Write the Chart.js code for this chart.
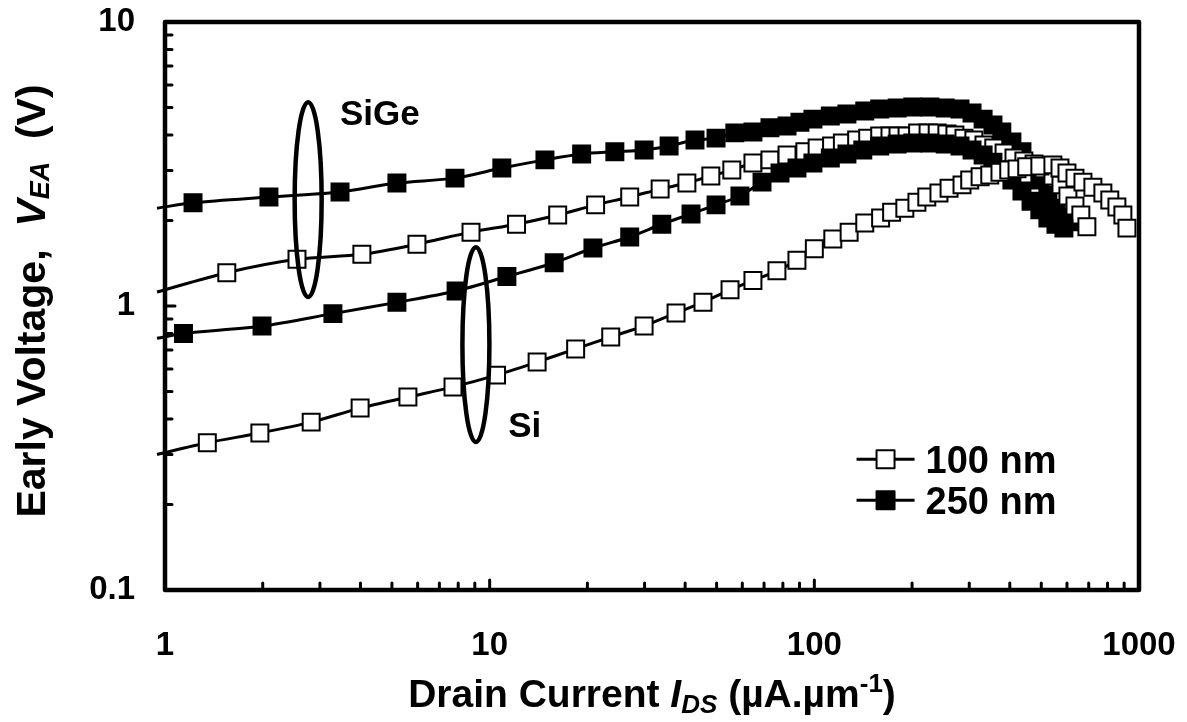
<!DOCTYPE html>
<html>
<head>
<meta charset="utf-8">
<title>Early voltage vs drain current</title>
<script src="https://cdn.jsdelivr.net/npm/chart.js@4.4.1/dist/chart.umd.min.js"></script>
<style>
  html, body { margin: 0; padding: 0; background: #fff; }
  #wrap { width: 1187px; height: 722px; position: relative; }
</style>
</head>
<body>
<div id="wrap"><canvas id="chart"></canvas></div>
<script>
const FONT = '"Liberation Sans", Arial, sans-serif';

// drain current (µA/µm) and Early voltage (V).
// first entry of each series is where the curve starts, just left of the y axis (no marker)
const si100X = [0.945, 1.35, 1.96, 2.82, 3.99, 5.60, 7.71, 10.5, 14.0, 18.4, 23.6, 29.9, 37.5, 45.4, 55.0, 64.7, 76.7, 88.4, 100, 114, 128, 143, 160, 173, 190, 207, 222, 242, 260, 285, 301, 324, 347, 373, 397, 421, 451, 495, 543, 571, 600, 635, 672, 721, 774, 813, 855, 892, 918];
const si100Y = [0.30, 0.33, 0.357, 0.39, 0.437, 0.478, 0.519, 0.571, 0.635, 0.706, 0.778, 0.851, 0.945, 1.03, 1.14, 1.23, 1.33, 1.45, 1.59, 1.72, 1.82, 1.96, 2.04, 2.14, 2.21, 2.32, 2.42, 2.50, 2.60, 2.67, 2.78, 2.85, 2.89, 2.96, 3.01, 3.04, 3.09, 3.11, 3.14, 3.06, 2.94, 2.82, 2.73, 2.62, 2.50, 2.36, 2.23, 2.09, 1.88];

const sige100X = [0.945, 1.55, 2.55, 4.04, 5.97, 8.76, 12.1, 16.2, 21.2, 27.0, 33.5, 40.5, 48.0, 55.7, 64.7, 73.0, 82.4, 93.5, 102, 113, 122, 135, 146, 159, 171, 181, 193, 208, 224, 239, 256, 271, 289, 310, 333, 357, 384, 412, 442, 475, 509, 543, 575, 604, 635, 662, 691];
const sige100Y = [1.12, 1.31, 1.46, 1.52, 1.65, 1.82, 1.94, 2.09, 2.27, 2.42, 2.58, 2.71, 2.87, 3.01, 3.19, 3.27, 3.40, 3.49, 3.60, 3.66, 3.75, 3.84, 3.90, 3.97, 3.97, 3.97, 3.97, 4.07, 4.07, 4.07, 4.03, 4.00, 3.90, 3.84, 3.69, 3.60, 3.46, 3.32, 3.24, 3.16, 3.04, 2.87, 2.67, 2.44, 2.25, 2.09, 1.90];

const si250X = [0.945, 1.14, 1.99, 3.29, 5.18, 7.88, 11.3, 15.8, 20.8, 27.0, 33.9, 41.7, 49.8, 59.0, 69.0, 78.4, 88.4, 99, 112, 126, 141, 159, 180, 201, 227, 253, 281, 306, 331, 355, 378, 406, 436, 465, 495, 524, 555, 587];
const si250Y = [0.77, 0.80, 0.85, 0.94, 1.03, 1.13, 1.27, 1.42, 1.60, 1.75, 1.94, 2.11, 2.27, 2.44, 2.73, 2.94, 3.06, 3.19, 3.32, 3.43, 3.54, 3.66, 3.72, 3.75, 3.75, 3.72, 3.66, 3.54, 3.40, 3.21, 3.01, 2.78, 2.54, 2.34, 2.18, 2.04, 1.94, 1.88];

const sige250X = [0.945, 1.22, 2.09, 3.46, 5.18, 7.82, 10.9, 14.8, 19.2, 24.3, 29.9, 35.7, 42.9, 49.8, 56.9, 64.7, 73.0, 82.4, 90.3, 99, 112, 126, 143, 159, 180, 201, 227, 253, 281, 306, 331, 355, 378, 406, 436, 465, 495, 524, 555, 587, 621];
const sige250Y = [2.21, 2.31, 2.42, 2.52, 2.71, 2.82, 3.06, 3.27, 3.43, 3.49, 3.54, 3.66, 3.84, 3.90, 4.07, 4.10, 4.24, 4.30, 4.44, 4.55, 4.67, 4.74, 4.86, 4.94, 4.98, 5.02, 5.02, 4.98, 4.94, 4.78, 4.55, 4.34, 4.10, 3.78, 3.49, 3.14, 2.78, 2.46, 2.21, 2.06, 1.98];

const xTicks = [1, 10, 100, 1000];
const yTicks = [0.1, 1, 10];
const legendLabels = ['100 nm', '250 nm'];

// ellipses grouping the curves, in data units
const groups = [
  { label: 'SiGe', x: 2.76, top: 5.22, bottom: 1.076, labelX: 3.46, labelY: 4.34 },
  { label: 'Si', x: 9.07, top: 1.61, bottom: 0.332, labelX: 11.4, labelY: 0.346 }
];

const toPoints = (xs, ys) => xs.map((v, i) => ({ x: v, y: ys[i] }));

function series(label, xs, ys, filled) {
  return {
    label: label,
    data: toPoints(xs, ys),
    borderColor: '#000',
    borderWidth: 3,
    backgroundColor: filled ? '#000' : '#fff',
    pointStyle: 'rect',
    pointRadius: ctx => ctx.dataIndex === 0 ? 0 : 12,
    pointBorderWidth: 2,
    pointBorderColor: '#000',
    pointBackgroundColor: filled ? '#000' : '#fff',
    tension: 0.3,
    clip: false
  };
}

function drawRich(ctx, parts, x, y) {
  let w = 0;
  parts.forEach(p => { ctx.font = p.font; w += ctx.measureText(p.t).width; });
  let cx = x - w / 2;
  parts.forEach(p => {
    ctx.font = p.font;
    ctx.fillText(p.t, cx, y + (p.dy || 0));
    cx += ctx.measureText(p.t).width;
  });
}

// scales must not push the plot area in for half-labels at their ends
function noEdgePadding(s) {
  s.paddingLeft = 0; s.paddingRight = 0; s.paddingTop = 0; s.paddingBottom = 0;
}

const decorations = {
  id: 'decorations',
  afterDatasetsDraw(chart) {
    const { ctx, scales: { x, y } } = chart;
    ctx.save();
    ctx.strokeStyle = '#000';
    ctx.fillStyle = '#000';
    ctx.lineWidth = 4.5;
    groups.forEach(g => {
      const cx = x.getPixelForValue(g.x);
      const t = y.getPixelForValue(g.top), b = y.getPixelForValue(g.bottom);
      ctx.beginPath();
      ctx.ellipse(cx, (t + b) / 2, 13.5, (b - t) / 2, 0, 0, Math.PI * 2);
      ctx.stroke();
      ctx.font = 'bold 35px ' + FONT;
      ctx.textBaseline = 'alphabetic';
      ctx.textAlign = 'left';
      ctx.fillText(g.label, x.getPixelForValue(g.labelX), y.getPixelForValue(g.labelY));
    });
    ctx.restore();
  },
  afterDraw(chart) {
    const { ctx, chartArea: a, scales: { x, y } } = chart;
    ctx.save();
    ctx.strokeStyle = '#000';
    ctx.fillStyle = '#000';
    ctx.lineCap = 'round';

    // minor / major ticks, pointing inward
    ctx.lineWidth = 3;
    ctx.beginPath();
    [1, 10, 100].forEach(d => {
      for (let n = 2; n <= 10; n++) {
        const px = x.getPixelForValue(n * d);
        if (px >= a.right - 1) continue;
        ctx.moveTo(px, a.bottom);
        ctx.lineTo(px, a.bottom - (n === 10 ? 10 : 7));
      }
    });
    [0.1, 1].forEach(d => {
      for (let n = 2; n <= 10; n++) {
        const py = y.getPixelForValue(n * d);
        if (py <= a.top + 1) continue;
        ctx.moveTo(a.left, py);
        ctx.lineTo(a.left + (n === 10 ? 10 : 7), py);
      }
    });
    ctx.stroke();

    // frame
    ctx.lineWidth = 4.5;
    ctx.lineJoin = 'round';
    ctx.strokeRect(a.left, a.top, a.right - a.left, a.bottom - a.top);

    // axis titles
    ctx.textAlign = 'left';
    ctx.textBaseline = 'alphabetic';
    const big = 'bold 39px ' + FONT, bigI = 'italic bold 39px ' + FONT;
    const small = 'bold 26px ' + FONT, smallI = 'italic bold 26px ' + FONT;
    drawRich(ctx, [
      { t: 'Drain Current ', font: big },
      { t: 'I', font: bigI },
      { t: 'DS', font: smallI, dy: 6 },
      { t: ' (µA.µm', font: big },
      { t: '-1', font: small, dy: -15 },
      { t: ')', font: big }
    ], (a.left + a.right) / 2, 707);

    ctx.save();
    ctx.translate(45, (a.top + a.bottom) / 2 - 5);
    ctx.rotate(-Math.PI / 2);
    const yb = 'bold 41px ' + FONT, ybI = 'italic bold 41px ' + FONT;
    drawRich(ctx, [
      { t: 'Early Voltage,  ', font: yb },
      { t: 'V', font: ybI },
      { t: 'EA', font: 'italic bold 27px ' + FONT, dy: 4 },
      { t: '  (V)', font: yb }
    ], 0, 0);
    ctx.restore();

    // legend
    const lx = a.left + (a.right - a.left) * 0.71;
    const rows = [a.top + (a.bottom - a.top) * 0.77, a.top + (a.bottom - a.top) * 0.842];
    chart.data.datasets.slice(0, 2).forEach((ds, i) => {
      const ly = rows[i];
      ctx.lineWidth = 3;
      ctx.lineCap = 'butt';
      ctx.beginPath();
      ctx.moveTo(lx, ly);
      ctx.lineTo(lx + 58, ly);
      ctx.stroke();
      ctx.fillStyle = ds.pointBackgroundColor;
      ctx.fillRect(lx + 20, ly - 9, 18, 18);
      ctx.lineWidth = 2;
      ctx.strokeRect(lx + 20, ly - 9, 18, 18);
      ctx.fillStyle = '#000';
      ctx.font = 'bold 38px ' + FONT;
      ctx.fillText(legendLabels[i], lx + 69, ly + 14);
    });
    ctx.restore();
  }
};

const tickFont = { family: FONT, size: 33, weight: 'bold' };

new Chart(document.getElementById('chart'), {
  type: 'line',
  data: {
    datasets: [
      series('Si 100 nm', si100X, si100Y, false),
      series('Si 250 nm', si250X, si250Y, true),
      series('SiGe 100 nm', sige100X, sige100Y, false),
      series('SiGe 250 nm', sige250X, sige250Y, true)
    ]
  },
  options: {
    responsive: true,
    maintainAspectRatio: false,
    devicePixelRatio: 1,
    animation: false,
    layout: { autoPadding: false, padding: { top: 22, right: 48, left: 0, bottom: 0 } },
    plugins: { legend: { display: false }, tooltip: { enabled: false } },
    scales: {
      x: {
        type: 'logarithmic',
        min: 1,
        max: 1000,
        afterBuildTicks: s => { s.ticks = xTicks.map(v => ({ value: v })); },
        afterFit: s => { s.height = 132; noEdgePadding(s); },
        grid: { display: false, drawTicks: false },
        border: { display: false },
        ticks: { callback: v => String(v), font: tickFont, color: '#000', padding: 36, maxRotation: 0, autoSkip: false }
      },
      y: {
        type: 'logarithmic',
        min: 0.1,
        max: 10,
        afterBuildTicks: s => { s.ticks = yTicks.map(v => ({ value: v })); },
        afterFit: s => { s.width = 165; noEdgePadding(s); },
        grid: { display: false, drawTicks: false },
        border: { display: false },
        ticks: { callback: v => String(v), font: tickFont, color: '#000', padding: 30, autoSkip: false }
      }
    }
  },
  plugins: [decorations]
});
</script>
</body>
</html>
